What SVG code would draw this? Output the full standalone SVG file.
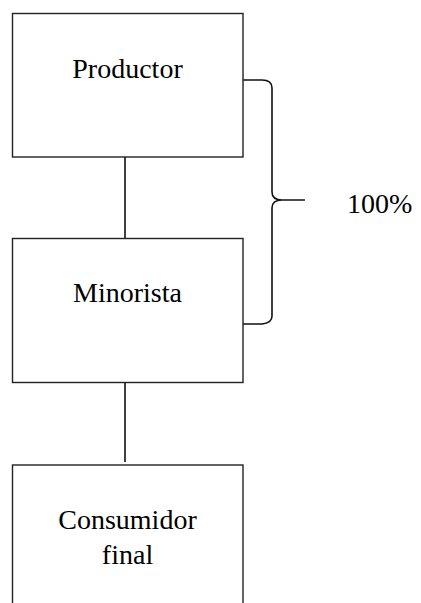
<svg xmlns="http://www.w3.org/2000/svg" width="421" height="603" viewBox="0 0 421 603">
<style>
.box{fill:#fff;stroke:#222;stroke-width:1.4}
.t{font-family:"Liberation Serif","Times New Roman",serif;font-size:28px;fill:#000;text-anchor:middle}
.c{fill:none;stroke:#111;stroke-width:1.6}
</style>
<rect width="421" height="603" fill="#fff"/>
<g id="connectors">
<line class="c" x1="125" y1="157" x2="125" y2="238"/>
<line class="c" x1="125" y1="382" x2="125" y2="462"/>
<path class="c" d="M243,80 L262,80 Q272,80 272,88 L272,192 Q272,200 282,200 L305,200 M282,200 Q272,200 272,208 L272,316 Q272,323 262,324 L243,324"/>
</g>
<g id="productor">
<rect class="box" x="12.5" y="13.5" width="230.5" height="143.5"/>
<text class="t" x="127.5" y="78">Productor</text>
</g>
<g id="minorista">
<rect class="box" x="12.5" y="238.5" width="230.5" height="144"/>
<text class="t" x="127.5" y="302">Minorista</text>
</g>
<g id="consumidor">
<rect class="box" x="12.5" y="465" width="230.5" height="150"/>
<text class="t" x="127.5" y="529">Consumidor</text>
<text class="t" x="127.5" y="564">final</text>
</g>
<g id="label">
<text class="t" style="text-anchor:start" x="347" y="213">100%</text>
</g>
</svg>
